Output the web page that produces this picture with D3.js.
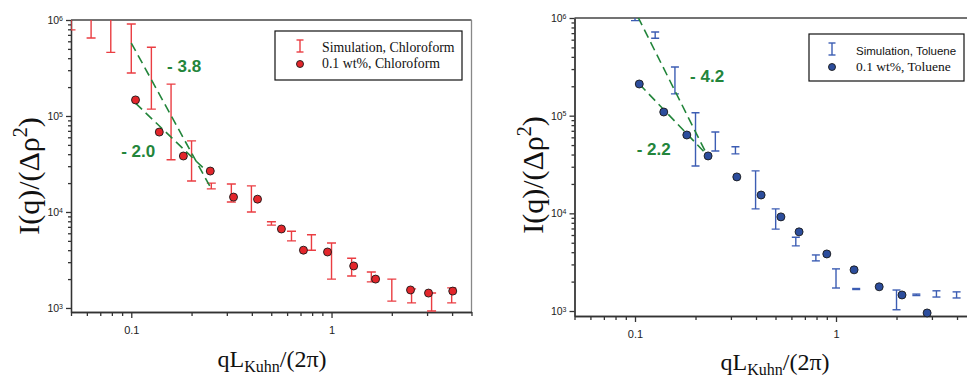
<!DOCTYPE html>
<html><head><meta charset="utf-8">
<script src="https://cdn.jsdelivr.net/npm/d3@7/dist/d3.min.js"></script>
<style>body{margin:0;background:#fff}</style>
</head><body><svg id="c" width="967" height="378"></svg>
<script>
// ---------- data ----------
const chlSimQ  = [0.05, 0.063, 0.079, 0.1, 0.126, 0.158, 0.2, 0.251, 0.316, 0.398, 0.501, 0.631, 0.794, 1.0, 1.26, 1.58, 2.0, 2.51, 3.16, 3.98];
const chlSimHi = [1.3e6, 1.3e6, 1.3e6, 9.1e5, 5.2e5, 2.15e5, 5.5e4, 2.0e4, 1.96e4, 1.87e4, 7.9e3, 6.3e3, 5.8e3, 4.75e3, 3.3e3, 2.37e3, 2.0e3, 1.58e3, 1.43e3, 1.62e3];
const chlSimLo = [7.9e5, 6.5e5, 4.6e5, 2.8e5, 1.18e5, 3.5e4, 2.1e4, 1.74e4, 1.27e4, 1.0e4, 7.3e3, 5.0e3, 4.0e3, 2.0e3, 2.15e3, 1.87e3, 1.18e3, 1.13e3, 9.3e2, 1.13e3];
const chlExpQ  = [0.105, 0.138, 0.182, 0.248, 0.324, 0.427, 0.562, 0.724, 0.955, 1.29, 1.66, 2.48, 3.05, 4.03];
const chlExpI  = [1.47e5, 6.8e4, 3.83e4, 2.67e4, 1.43e4, 1.36e4, 6.65e3, 4.0e3, 3.83e3, 2.74e3, 2.0e3, 1.54e3, 1.43e3, 1.5e3];
const chlFitSteepQ = [0.1, 0.248],   chlFitSteepI = [5.75e5, 1.82e4];
const chlFitFlatQ  = [0.105, 0.243], chlFitFlatI  = [1.36e5, 2.55e4];
const chlLabels = ["- 3.8", "- 2.0"], chlLabelQ = [0.151, 0.089], chlLabelI = [2.87e5, 3.74e4];

const tolSimQ  = [0.1, 0.126, 0.158, 0.2, 0.251, 0.316, 0.398, 0.501, 0.631, 0.794, 1.0, 1.26, 2.0, 2.51, 3.16, 3.98];
const tolSimHi = [1.05e6, 7.2e5, 3.15e5, 1.07e5, 6.8e4, 4.8e4, 2.72e4, 1.11e4, 5.7e3, 3.75e3, 2.7e3, 1.7e3, 1.64e3, 1.49e3, 1.61e3, 1.57e3];
const tolSimLo = [9.4e5, 6.2e5, 1.67e5, 3.05e4, 4.35e4, 4.06e4, 1.11e4, 6.9e3, 4.64e3, 3.26e3, 1.72e3, 1.66e3, 1.03e3, 1.44e3, 1.39e3, 1.36e3];
const tolExpQ  = [0.105, 0.139, 0.181, 0.231, 0.321, 0.424, 0.532, 0.655, 0.90, 1.23, 1.64, 2.13, 2.84];
const tolExpI  = [2.11e5, 1.09e5, 6.34e4, 3.87e4, 2.36e4, 1.54e4, 9.2e3, 6.46e3, 3.84e3, 2.64e3, 1.77e3, 1.46e3, 955];
const tolFitSteepQ = [0.1035, 0.231], tolFitSteepI = [1.02e6, 3.78e4];
const tolFitFlatQ  = [0.105, 0.231],  tolFitFlatI  = [2.11e5, 3.87e4];
const tolLabels = ["- 4.2", "- 2.2"], tolLabelQ = [0.188, 0.102], tolLabelI = [2.21e5, 3.96e4];

const xMajorTicks = [0.1, 1];
const xMinorTicks = [0.05, 0.06, 0.07, 0.08, 0.09, 0.2, 0.3, 0.4, 0.5, 0.6, 0.7, 0.8, 0.9, 2, 3, 4, 5];
const yMajorTicks = [1e3, 1e4, 1e5, 1e6];
const yMinorTicks = [2e3,3e3,4e3,5e3,6e3,7e3,8e3,9e3,2e4,3e4,4e4,5e4,6e4,7e4,8e4,9e4,2e5,3e5,4e5,5e5,6e5,7e5,8e5,9e5];

const svg = d3.select("#c");
const GREEN = "#23853b";

function panel(o) {
  const x = d3.scaleLog().domain([0.05, 5]).range([o.x0, o.x1]);
  const y = d3.scaleLog().domain([o.yMin, 1e6]).range([o.yb, o.yt]);
  const g = svg.append("g");
  const clipId = "clip" + o.id;
  svg.append("clipPath").attr("id", clipId).append("rect")
    .attr("x", o.x0).attr("y", o.yt).attr("width", o.x1 - o.x0).attr("height", o.yb - o.yt);

  // frame
  g.append("line").attr("x1", o.x0).attr("x2", Math.min(o.x1, 967)).attr("y1", o.yt).attr("y2", o.yt)
    .attr("stroke", "#444").attr("stroke-width", 1.3);
  if (o.x1 < 967) g.append("line").attr("x1", o.x1).attr("x2", o.x1).attr("y1", o.yt).attr("y2", o.yb)
    .attr("stroke", "#888").attr("stroke-width", 1.3);

  // axes
  const axStyle = sel => { sel.selectAll("path,line").attr("stroke", "#333").attr("stroke-width", 1.3);
    sel.selectAll("text").attr("font-family", "Liberation Sans, Arial").attr("font-size", 11).attr("fill", "#222"); };
  g.append("g").attr("transform", `translate(0,${o.yb})`)
    .call(d3.axisBottom(x).tickValues(xMinorTicks).tickSize(4).tickFormat("").tickSizeOuter(0)).call(axStyle);
  g.append("g").attr("transform", `translate(0,${o.yb})`)
    .call(d3.axisBottom(x).tickValues(xMajorTicks).tickSize(6).tickPadding(8).tickFormat(d3.format("")).tickSizeOuter(0)).call(axStyle);
  g.append("g").attr("transform", `translate(${o.x0},0)`)
    .call(d3.axisLeft(y).tickValues(yMinorTicks).tickSize(3).tickFormat("").tickSizeOuter(0)).call(axStyle);
  const ya = g.append("g").attr("transform", `translate(${o.x0},0)`)
    .call(d3.axisLeft(y).tickValues(yMajorTicks).tickSize(5).tickPadding(3).tickFormat(() => "").tickSizeOuter(0)).call(axStyle);
  ya.selectAll(".tick text").each(function(d) {
    const t = d3.select(this).attr("font-size", 10.5);
    t.append("tspan").text("10");
    t.append("tspan").attr("font-size", 7).attr("dy", "-0.45em").text(Math.round(Math.log10(d)));
  });

  // error bars
  const eb = g.append("g").attr("clip-path", `url(#${clipId})`);
  o.simQ.forEach((q, i) => {
    const xx = x(q), yh = y(o.simHi[i]), yl = y(o.simLo[i]);
    const bar = eb.append("g").attr("stroke", o.barColor).attr("stroke-width", 1.4).attr("fill", "none");
    bar.append("line").attr("x1", xx).attr("x2", xx).attr("y1", yh).attr("y2", yl);
    bar.append("line").attr("x1", xx - o.cap).attr("x2", xx + o.cap).attr("y1", yh).attr("y2", yh);
    bar.append("line").attr("x1", xx - o.cap).attr("x2", xx + o.cap).attr("y1", yl).attr("y2", yl);
  });

  // fit lines
  const line = d3.line().x(d => x(d[0])).y(d => y(d[1]));
  [[o.fitSQ, o.fitSI], [o.fitFQ, o.fitFI]].forEach(([qs, is]) => {
    g.append("path").datum(qs.map((q, i) => [q, is[i]])).attr("d", line)
      .attr("fill", "none").attr("stroke", GREEN).attr("stroke-width", 1.6).attr("stroke-dasharray", "9,5")
      .attr("clip-path", `url(#${clipId})`);
  });

  // points
  g.append("g").selectAll("circle").data(o.expQ.map((q, i) => [q, o.expI[i]])).join("circle")
    .attr("cx", d => x(d[0])).attr("cy", d => y(d[1])).attr("r", 4)
    .attr("fill", o.ptColor).attr("stroke", "#1a1a1a").attr("stroke-width", 0.9);

  // slope labels
  o.labels.forEach((s, i) => {
    g.append("text").attr("x", x(o.labelQ[i])).attr("y", y(o.labelI[i])).text(s)
      .attr("font-family", "Liberation Sans, Arial").attr("font-weight", "bold").attr("font-size", 17).attr("fill", GREEN);
  });

  // legend
  const L = o.legend;
  g.append("rect").attr("x", L.x).attr("y", L.y).attr("width", L.w).attr("height", L.h)
    .attr("fill", "#fff").attr("stroke", "#111").attr("stroke-width", 1.2);
  const sx = L.x + L.sym, ty = L.y;
  const lb = g.append("g").attr("stroke", o.barColor).attr("stroke-width", 1.4);
  lb.append("line").attr("x1", sx).attr("x2", sx).attr("y1", ty + 9).attr("y2", ty + 21);
  lb.append("line").attr("x1", sx - 3.5).attr("x2", sx + 3.5).attr("y1", ty + 9).attr("y2", ty + 9);
  lb.append("line").attr("x1", sx - 3.5).attr("x2", sx + 3.5).attr("y1", ty + 21).attr("y2", ty + 21);
  g.append("circle").attr("cx", sx).attr("cy", ty + 33).attr("r", 3.5)
    .attr("fill", o.ptColor).attr("stroke", "#1a1a1a").attr("stroke-width", 0.9);
  g.append("text").attr("x", L.x + L.tx).attr("y", ty + 21).text(o.legendText[0])
    .attr("font-family", L.f1).attr("font-size", L.s1).attr("fill", "#111");
  g.append("text").attr("x", L.x + L.tx).attr("y", ty + 37).text(o.legendText[1])
    .attr("font-family", "Liberation Serif, Times New Roman").attr("font-size", L.s2).attr("fill", "#111");

  // axis titles
  const xt = g.append("text").attr("x", o.xtX).attr("y", o.xtY).attr("text-anchor", "middle")
    .attr("font-family", "Liberation Serif, Times New Roman").attr("font-size", 24).attr("fill", "#111");
  xt.append("tspan").text("qL");
  xt.append("tspan").attr("font-size", 16).attr("dy", 5).text("Kuhn");
  xt.append("tspan").attr("dy", -5).text("/(2π)");
  const yt = g.append("text").attr("transform", `translate(${o.ytX},${o.ytY}) rotate(-90)`).attr("text-anchor", "middle")
    .attr("font-family", "Liberation Serif, Times New Roman").attr("font-size", 30).attr("fill", "#111");
  yt.append("tspan").text("I(q)/(Δρ");
  yt.append("tspan").attr("font-size", 20).attr("dy", -12).text("2");
  yt.append("tspan").attr("dy", 12).text(")");
}

panel({ id: "L", x0: 71, x1: 471.5, yt: 20, yb: 312, yMin: 908,
  simQ: chlSimQ, simHi: chlSimHi, simLo: chlSimLo, expQ: chlExpQ, expI: chlExpI,
  fitSQ: chlFitSteepQ, fitSI: chlFitSteepI, fitFQ: chlFitFlatQ, fitFI: chlFitFlatI,
  labels: chlLabels, labelQ: chlLabelQ, labelI: chlLabelI,
  barColor: "#ea3d42", ptColor: "#e3262b", cap: 4.5,
  legend: { x: 275, y: 31, w: 187, h: 49, sym: 25, tx: 47, f1: "Liberation Serif, Times New Roman", s1: 13.8, s2: 13.8 },
  legendText: ["Simulation, Chloroform", "0.1 wt%, Chloroform"],
  xtX: 272, xtY: 367, ytX: 39, ytY: 176 });

panel({ id: "R", x0: 574.5, x1: 976.5, yt: 18, yb: 316, yMin: 889,
  simQ: tolSimQ, simHi: tolSimHi, simLo: tolSimLo, expQ: tolExpQ, expI: tolExpI,
  fitSQ: tolFitSteepQ, fitSI: tolFitSteepI, fitFQ: tolFitFlatQ, fitFI: tolFitFlatI,
  labels: tolLabels, labelQ: tolLabelQ, labelI: tolLabelI,
  barColor: "#3c5db3", ptColor: "#2c4d9c", cap: 4,
  legend: { x: 809, y: 34, w: 155, h: 47, sym: 23, tx: 47, f1: "Liberation Sans, Arial", s1: 11.5, s2: 13.5 },
  legendText: ["Simulation, Toluene", "0.1 wt%, Toluene"],
  xtX: 775, xtY: 370, ytX: 543, ytY: 175 });
</script></body></html>
